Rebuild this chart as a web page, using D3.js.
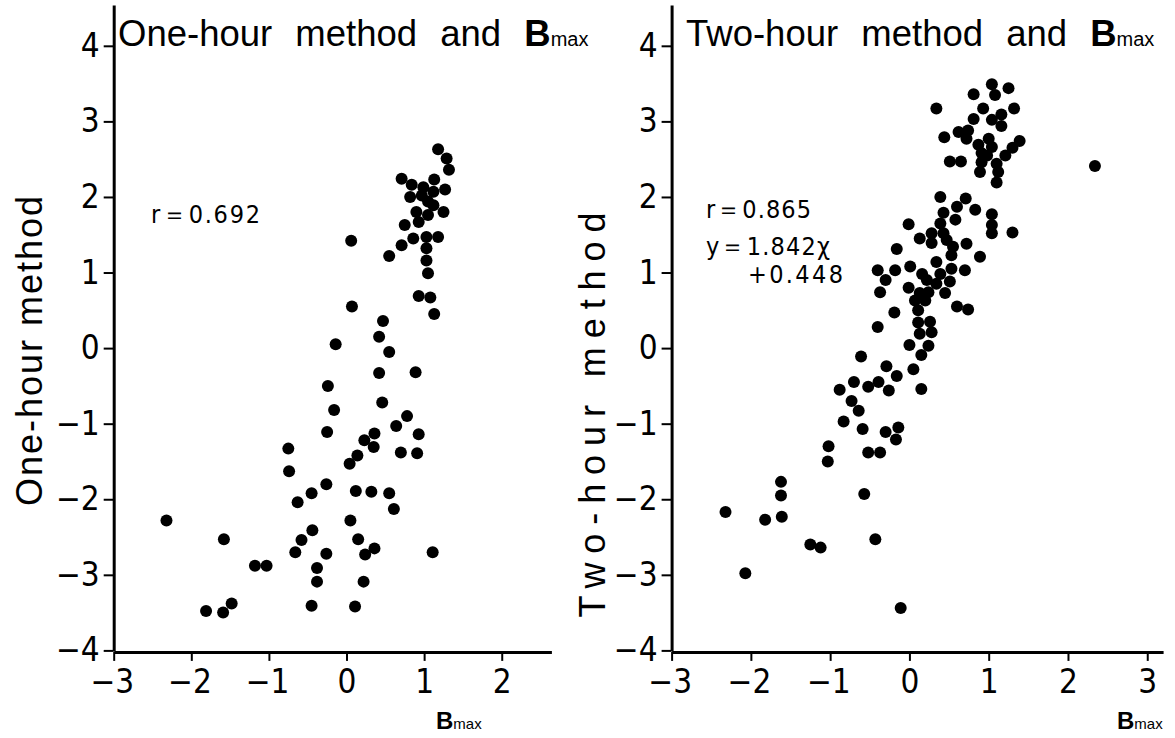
<!DOCTYPE html>
<html>
<head>
<meta charset="utf-8">
<script src="https://cdn.jsdelivr.net/npm/d3@7"></script>
<style>
  body { margin: 0; background: #fff; }
  svg { display: block; }
  .narrow { font-family: "Liberation Sans Narrow", "DejaVu Sans Condensed", "Liberation Sans", sans-serif; }
</style>
</head>
<body>
<div id="chart"></div>
<script>
// one-hour method vs Bmax (left panel)
const oneX = [1.18, 1.29, 1.32, 0.71, 0.84, 0.99, 1.13, 1.27, 0.82, 0.97, 1.12, 1.05, 1.12, 0.90, 1.05, 1.25,
  0.93, 0.75, 0.86, 0.71, 1.03, 1.18, 1.03, 1.03, 1.05, 0.93, 1.08, 1.13, 0.06, 0.55, 0.07, 0.47, 0.42, 0.55,
  -0.14, 0.42, 0.89, -0.24, 0.46, -0.16, 0.78, 0.64, -0.25, 0.36, 0.93, 0.23, 0.35, -0.75, 0.70, 0.91, 0.14,
  0.04, -0.74, -0.26, -0.45, 0.12, 0.32, 0.55, -0.63, 0.61, -2.32, 0.05, -0.44, -1.58, 0.15, -0.58, 0.36,
  -0.66, -0.26, 0.24, 1.11, -1.18, -1.03, -0.38, -0.38, 0.22, -1.48, -1.81, -1.59, -0.45, 0.11];
const oneY = [2.63, 2.51, 2.36, 2.24, 2.16, 2.13, 2.23, 2.10, 2.00, 2.02, 2.07, 1.94, 1.89, 1.80, 1.76, 1.80,
  1.67, 1.63, 1.45, 1.36, 1.47, 1.47, 1.32, 1.16, 0.99, 0.69, 0.67, 0.45, 1.42, 1.22, 0.55, 0.36, 0.15, -0.05,
  0.05, -0.33, -0.32, -0.50, -0.72, -0.82, -0.90, -1.03, -1.11, -1.13, -1.14, -1.22, -1.31, -1.33, -1.38, -1.39, -1.42,
  -1.53, -1.63, -1.80, -1.92, -1.89, -1.90, -1.92, -2.04, -2.13, -2.28, -2.28, -2.41, -2.53, -2.53, -2.54, -2.65,
  -2.70, -2.72, -2.73, -2.70, -2.88, -2.88, -2.91, -3.09, -3.09, -3.38, -3.48, -3.50, -3.41, -3.42];

// two-hour method vs Bmax (right panel)
const twoX = [1.04, 1.25, 0.81, 1.08, 0.34, 0.93, 1.32, 1.16, 0.81, 1.04, 1.16, 0.62, 0.74, 0.44, 0.72, 1.00,
  1.39, 0.87, 1.30, 1.04, 0.91, 1.21, 0.98, 0.51, 0.65, 0.91, 1.10, 0.89, 1.12, 1.10, 2.34,
  0.39, 0.71, 0.60, 0.83, 0.43, 1.04, 0.58, 1.04, -0.01, 0.39, 0.28, 0.43, 1.04, 1.30, 0.13, 0.28, 0.47, 0.55,
  0.72, -0.16, 0.53, 0.89, 0.34, 0.01, 0.53, 0.70, -0.40, -0.18, -0.30, 0.16, 0.39, 0.22, 0.34, 0.51, -0.01,
  -0.37, 0.13, 0.24, 0.45, 0.07, 0.20, 0.60, 0.74, 0.11, -0.19, -0.40, 0.11, 0.26, 0.13, 0.28, 0.00, 0.24,
  0.15, -0.61, -0.29, 0.05, -0.16, -0.70, -0.39, -0.52, -0.26, -0.88, 0.15, -0.73, -0.64, -0.83, -0.59, -0.30,
  -0.14, -0.17, -1.02, -1.03, -0.52, -0.37, -1.62, -1.62, -2.32, -1.82, -1.61, -0.57, -1.25, -1.12, -0.43,
  -2.07, -0.11];
const twoY = [3.49, 3.44, 3.36, 3.35, 3.17, 3.17, 3.17, 3.09, 3.03, 3.02, 2.94, 2.86, 2.88, 2.79, 2.77, 2.77,
  2.74, 2.69, 2.65, 2.66, 2.58, 2.55, 2.55, 2.47, 2.47, 2.46, 2.44, 2.33, 2.33, 2.19, 2.41,
  2.00, 1.98, 1.87, 1.83, 1.79, 1.77, 1.70, 1.63, 1.64, 1.65, 1.52, 1.52, 1.52, 1.53, 1.45, 1.39, 1.43, 1.34,
  1.38, 1.31, 1.23, 1.21, 1.14, 1.08, 1.05, 1.03, 1.03, 1.03, 0.90, 0.98, 0.98, 0.90, 0.85, 0.88, 0.80,
  0.74, 0.73, 0.74, 0.73, 0.63, 0.63, 0.55, 0.51, 0.50, 0.47, 0.28, 0.34, 0.35, 0.19, 0.21, 0.04, 0.03,
  -0.09, -0.11, -0.24, -0.28, -0.37, -0.45, -0.45, -0.51, -0.56, -0.55, -0.54, -0.70, -0.83, -0.97, -1.07, -1.11,
  -1.05, -1.21, -1.30, -1.50, -1.38, -1.38, -1.77, -1.95, -2.17, -2.27, -2.23, -1.93, -2.60, -2.64, -2.53,
  -2.98, -3.44];

const xTicksOne = [-3, -2, -1, 0, 1, 2];
const xTicksTwo = [-3, -2, -1, 0, 1, 2, 3];
const yTicks = [-4, -3, -2, -1, 0, 1, 2, 3, 4];

const width = 1175, height = 738;
const svg = d3.select('#chart').append('svg')
  .attr('width', width)
  .attr('height', height)
  .style('background', '#fff');

const minus = d => (d < 0 ? '\u2212' + Math.abs(d) : String(d));

const panel = (xs, ys, xDomain, xRange, xTicks) => {
  const x = d3.scaleLinear().domain(xDomain).range(xRange);
  const y = d3.scaleLinear().domain([-4, 4.54]).range([650.4, 5]);
  const g = svg.append('g');

  const xAxis = g.append('g')
    .attr('transform', `translate(0,${y(-4) + 1.5})`)
    .call(d3.axisBottom(x).tickValues(xTicks).tickSize(9).tickSizeOuter(0).tickPadding(9).tickFormat(minus));
  xAxis.select('.domain').attr('stroke-width', 3);
  xAxis.selectAll('.tick line').attr('stroke-width', 2);
  xAxis.selectAll('.tick text')
    .attr('class', 'narrow')
    .attr('font-size', 33)
    .attr('fill', '#000')
    .attr('text-anchor', d => d < 0 ? 'end' : 'middle')
    .attr('x', d => d < 0 ? 20 : 0);

  const yAxis = g.append('g')
    .attr('transform', `translate(${x(-3)},0)`)
    .call(d3.axisLeft(y).tickValues(yTicks).tickSize(10).tickSizeOuter(0).tickPadding(4).tickFormat(minus));
  yAxis.select('.domain').attr('stroke-width', 3);
  yAxis.selectAll('.tick line').attr('stroke-width', 2);
  yAxis.selectAll('.tick text')
    .attr('class', 'narrow')
    .attr('font-size', 33)
    .attr('fill', '#000');

  g.append('g')
    .selectAll('circle')
    .data(xs.map((d, i) => [d, ys[i]]))
    .enter()
    .append('circle')
    .attr('cx', d => x(d[0]))
    .attr('cy', d => y(d[1]))
    .attr('r', 6)
    .attr('fill', '#000');
  return { x, y, g };
};

const left = panel(oneX, oneY, [-3, 2.64], [113.7, 551.4], xTicksOne);
const right = panel(twoX, twoY, [-3, 3.2], [671.6, 1163.1], xTicksTwo);

// titles
const title = (g, x0, label) => {
  const t = g.append('text')
    .attr('x', x0).attr('y', 46)
    .attr('font-family', 'Liberation Sans, Arial, sans-serif')
    .attr('font-size', 36.5)
    .attr('word-spacing', 13)
    .attr('fill', '#000');
  t.append('tspan').text(label + ' ');
  t.append('tspan').attr('font-weight', 'bold').text('B');
  t.append('tspan').attr('font-size', 20).text('max');
};
title(left.g, 118, 'One-hour method and');
title(right.g, 686, 'Two-hour method and');

// axis names
const bmax = (g, x0) => {
  const t = g.append('text')
    .attr('x', x0).attr('y', 729)
    .attr('font-family', 'Liberation Sans, Arial, sans-serif')
    .attr('fill', '#000');
  t.append('tspan').attr('font-size', 24).attr('font-weight', 'bold').text('B');
  t.append('tspan').attr('font-size', 15).text('max');
};
bmax(left.g, 436);
bmax(right.g, 1117);

const yName = (g, cx, cy, label, len) => {
  g.append('text')
    .attr('transform', `translate(${cx},${cy}) rotate(-90)`)
    .attr('text-anchor', 'middle')
    .attr('font-family', 'Liberation Sans, Arial, sans-serif')
    .attr('font-size', 36)
    .attr('textLength', len)
    .attr('lengthAdjust', 'spacing')
    .attr('fill', '#000')
    .text(label);
};
yName(left.g, 42, 351, 'One-hour method', 310);
yName(right.g, 605, 415, 'Two-hour method', 405);

// stats
const note = (g, x0, y0, label, len) => {
  g.append('text')
    .attr('class', 'narrow')
    .attr('x', x0).attr('y', y0)
    .attr('font-size', 25)
    .attr('textLength', len)
    .attr('lengthAdjust', 'spacing')
    .attr('fill', '#000')
    .text(label);
};
note(left.g, 151, 223, 'r\uff1d0.692', 109);
note(right.g, 706, 218, 'r\uff1d0.865', 105);
note(right.g, 706, 255, 'y\uff1d1.842\u03c7', 124);
note(right.g, 748, 283, '+0.448', 95);
</script>
</body>
</html>
